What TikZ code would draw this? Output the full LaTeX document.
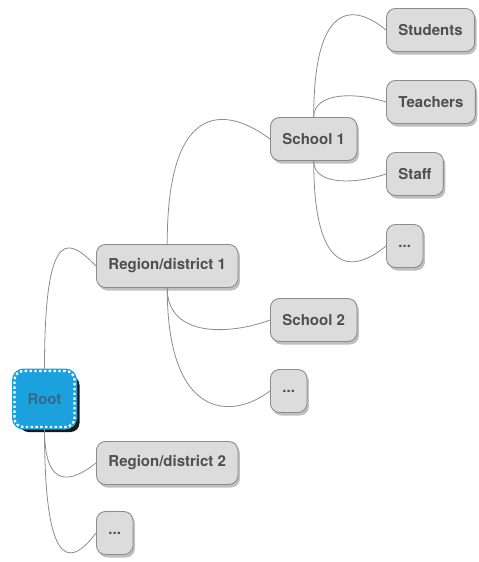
\documentclass[tikz,border=0pt]{standalone}
\usepackage{fontspec}
\setmainfont{TeX Gyre Heros}
\usetikzlibrary{shadows}
\definecolor{topicgray}{HTML}{DCDCDC}
\definecolor{framegray}{HTML}{8C8C8C}
\definecolor{textgray}{HTML}{4F4F4F}
\definecolor{rootblue}{HTML}{1BA1DD}
\definecolor{roottext}{HTML}{36688A}

\begin{document}
\begin{tikzpicture}[x=1pt, y={(0pt,-1pt)},
    topic/.style={draw=framegray, line width=0.9pt, fill=topicgray, rounded corners=9pt,
      minimum height=43pt, inner xsep=12pt, anchor=west, text=textgray,
      font=\fontsize{15}{18}\selectfont\bfseries,
      drop shadow={fill=black, opacity=0.25, shadow xshift=2pt, shadow yshift=-3pt}},
    rootnode/.style={topic, fill=rootblue, draw=rootblue, line width=5pt,
      minimum width=60pt, minimum height=56pt, text=roottext,
      postaction={draw=white, line width=2.2pt, dash pattern=on 2.4pt off 2.4pt},
      drop shadow={fill=black, opacity=0.9, shadow xshift=5pt, shadow yshift=-5pt}},
    branch/.style={draw=framegray, line width=0.8pt}]
  \useasboundingbox (0,0) rectangle (479,562);
  \node[rootnode] (root) at (12,399) {Root};
  \node[topic] (r1) at (96,266) {Region/district 1};
  \node[topic] (r2) at (96,463) {Region/district 2};
  \node[topic] (rmore) at (96,533) {...};
  \node[topic] (s1) at (270,139) {School 1};
  \node[topic] (s2) at (270,320) {School 2};
  \node[topic] (smore) at (270,391) {...};
  \node[topic] (students) at (386,30) {Students};
  \node[topic] (teachers) at (386,102) {Teachers};
  \node[topic] (staff) at (386,174) {Staff};
  \node[topic] (more) at (386,246) {...};
  \draw[branch] (root.north) .. controls +(0,-150) and +(-25,-25) .. (r1.west);
  \draw[branch] (root.south) .. controls +(0,60) and +(-25,20) .. (r2.west);
  \draw[branch] (root.south) .. controls +(0,130) and +(-30,40) .. (rmore.west);
  \draw[branch] (r1.north) .. controls +(0,-150) and +(-40,-30) .. (s1.west);
  \draw[branch] (r1.south) .. controls +(0,50) and +(-40,15) .. (s2.west);
  \draw[branch] (r1.south) .. controls +(0,130) and +(-40,30) .. (smore.west);
  \draw[branch] (s1.north) .. controls +(0,-120) and +(-30,-25) .. (students.west);
  \draw[branch] (s1.north) .. controls +(0,-25) and +(-30,-10) .. (teachers.west);
  \draw[branch] (s1.south) .. controls +(0,25) and +(-30,10) .. (staff.west);
  \draw[branch] (s1.south) .. controls +(0,120) and +(-30,25) .. (more.west);
\end{tikzpicture}
\end{document}
